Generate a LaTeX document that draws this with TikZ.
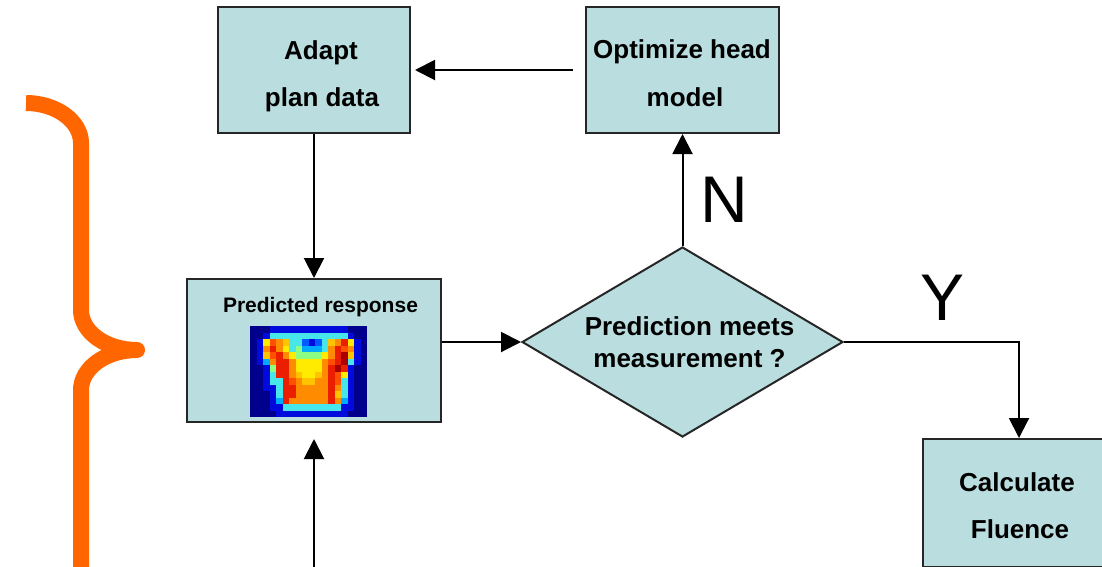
\documentclass[tikz,border=0pt]{standalone}
\usepackage{fontspec}
\setmainfont{Liberation Sans}
\usetikzlibrary{arrows.meta,shapes.geometric}

\definecolor{boxfill}{RGB}{186,221,223}
\definecolor{braceorange}{RGB}{255,102,0}
% palette of the response map (jet-like)
\definecolor{hmD}{RGB}{0,0,140}
\definecolor{hmB}{RGB}{0,10,220}
\definecolor{hmb}{RGB}{0,90,255}
\definecolor{hmL}{RGB}{0,170,255}
\definecolor{hmC}{RGB}{70,230,235}
\definecolor{hmG}{RGB}{140,255,130}
\definecolor{hmY}{RGB}{255,235,0}
\definecolor{hmy}{RGB}{255,195,0}
\definecolor{hmO}{RGB}{255,140,0}
\definecolor{hmr}{RGB}{255,80,0}
\definecolor{hmR}{RGB}{235,30,0}
\definecolor{hmM}{RGB}{170,0,0}

\begin{document}
\begin{tikzpicture}[x=1pt,y=-1pt,
  box/.style={draw=black!85, line width=2pt, fill=boxfill, rectangle, inner sep=0pt},
  decision/.style={draw=black!85, line width=2pt, fill=boxfill, diamond, inner sep=0pt},
  lbl/.style={font=\fontsize{26}{30}\selectfont\bfseries, inner sep=0pt, anchor=base},
  smalllbl/.style={font=\fontsize{21}{25}\selectfont\bfseries, inner sep=0pt, anchor=base},
  biglbl/.style={font=\fontsize{66}{70}\selectfont, inner sep=0pt, anchor=base},
  conn/.style={line width=2pt, -{Triangle[length=20pt,width=20pt]}}]

\useasboundingbox (0,0) rectangle (1102,566);
\clip (0,0) rectangle (1102,566);

% orange curly brace on the left
\draw[braceorange, line width=16pt, line join=round]
  (26,103) .. controls (56,103) and (81,121) .. (81,143) -- (81,310)
  .. controls (81,332) and (106,350) .. (137,350)
  .. controls (106,350) and (81,368) .. (81,390) -- (81,590);

% process boxes
\node[box, minimum width=192pt, minimum height=126pt] (adapt) at (314,70) {};
\node[box, minimum width=193pt, minimum height=126pt] (opt) at (682.5,70) {};
\node[box, minimum width=254pt, minimum height=143pt] (pred) at (314,350.5) {};
\node[box, minimum width=192pt, minimum height=128pt] (calc) at (1019,503) {};
\node[decision, minimum width=321pt, minimum height=190pt] (dia) at (682.5,342) {};

% box texts
\node[lbl] (adaptA) at (321,59) {Adapt};
\node[lbl] (adaptB) at (322,106) {plan data};
\node[lbl] (optA) at (682,58) {Optimize head};
\node[lbl] (optB) at (685,106) {model};
\node[smalllbl] (predT) at (320.5,312.5) {Predicted response};
\node[lbl] (diaA) at (689.5,335) {Prediction meets};
\node[lbl] (diaB) at (689.5,367) {measurement ?};
\node[lbl] (calcA) at (1017,491) {Calculate};
\node[lbl] (calcB) at (1020,538) {Fluence};

% predicted response map
\foreach \rowcols [count=\r from 0] in {
  {D,D,D,B,B,B,B,B,B,B,B,B,B,B,B,D,D,D},
  {D,D,B,C,C,C,C,C,C,C,C,C,C,C,C,B,D,D},
  {D,B,Y,r,O,y,C,C,b,B,b,C,y,O,R,Y,B,D},
  {D,B,O,R,O,Y,C,G,L,L,L,C,O,R,r,O,B,D},
  {D,B,y,r,R,O,Y,G,G,G,G,Y,O,R,M,y,B,D},
  {D,B,L,O,R,R,O,Y,Y,Y,Y,O,r,R,M,C,B,D},
  {D,D,B,G,R,R,O,Y,Y,Y,Y,O,R,M,R,B,D,D},
  {D,D,B,C,R,R,O,y,Y,Y,y,O,R,r,Y,B,D,D},
  {D,D,B,C,C,R,r,O,y,y,O,O,R,r,C,B,D,D},
  {D,D,B,B,C,R,R,O,O,O,O,O,R,O,C,B,D,D},
  {D,D,D,B,C,R,R,O,O,O,O,O,R,y,C,B,D,D},
  {D,D,D,B,L,R,O,O,O,O,O,O,R,O,L,B,D,D},
  {D,D,D,B,B,C,C,C,C,C,C,C,C,C,B,B,D,D},
  {D,D,D,D,B,B,B,B,B,B,B,B,B,B,B,D,D,D}}
{
  \foreach \cc [count=\k from 0] in \rowcols {
    \fill[fill=hm\cc] ({250+6.5*\k},{326+6.5*\r}) rectangle ++(6.6,6.6);
  }
}

% connectors
\draw[conn, shorten <=12pt, shorten >=4pt] (opt.west) -- (adapt.east);
\draw[conn] (adapt.south) -- (pred.north);
\draw[conn] (pred.east |- dia.west) -- (dia.west);
\draw[conn] (dia.north) -- (opt.south);
\draw[conn] (dia.east) -| (calc.north);
\coordinate (feed) at (314,590);
\draw[conn, shorten >=16pt] (feed) -- (pred.south);

% branch labels
\node[biglbl] (no) at (724,222) {N};
\node[biglbl] (yes) at (942,320) {Y};

\end{tikzpicture}
\end{document}
